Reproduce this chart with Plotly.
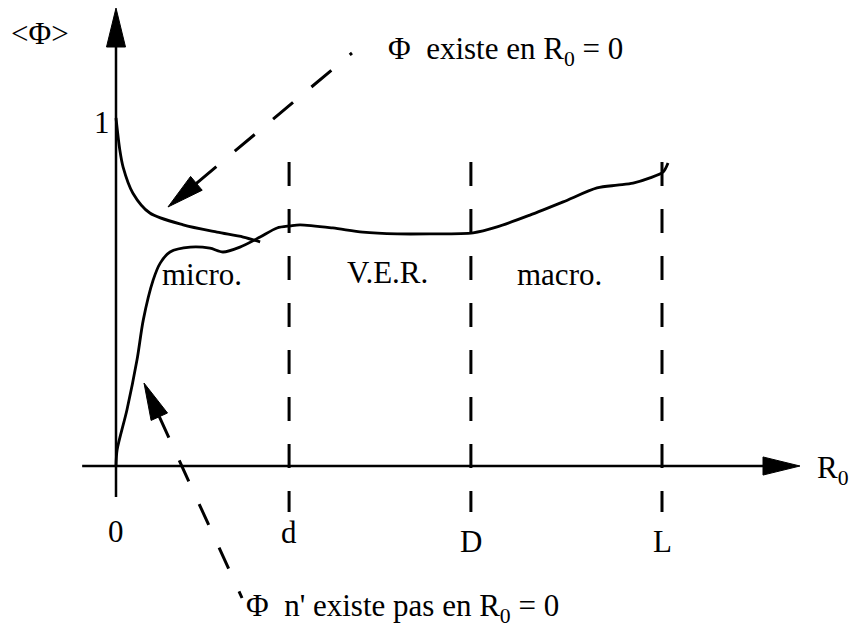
import plotly.graph_objects as go

# ---- data (R0 in arbitrary units with L = 10, <Phi> normalised so that 1 = value at R0 = 0)
r0_exists = [0.0, 0.07, 0.13, 0.31, 0.62, 1.23, 1.85, 2.33, 2.64]
phi_exists = [1.0, 0.908, 0.859, 0.784, 0.727, 0.693, 0.672, 0.658, 0.644]

r0_not_exists = [0.0, 0.02, 0.20, 0.385, 0.50, 0.68, 0.81, 0.99, 1.36, 1.72, 1.96, 2.27,
                 2.64, 2.95, 3.19, 3.37, 3.97, 4.52, 5.15, 5.75, 6.54, 6.98, 7.58, 8.19,
                 8.81, 9.18, 9.47, 9.78, 10.02, 10.11]
phi_not_exists = [0.0, 0.046, 0.161, 0.305, 0.420, 0.534, 0.583, 0.615, 0.629, 0.626, 0.615, 0.629,
                  0.658, 0.684, 0.690, 0.693, 0.684, 0.672, 0.667, 0.667, 0.670, 0.687, 0.721, 0.759,
                  0.799, 0.807, 0.813, 0.828, 0.845, 0.871]

tick_vals = [0.0, 3.17, 6.50, 10.0]
tick_labels = ["0", "d", "D", "L"]
tick_label_y = [-0.187, -0.190, -0.2155, -0.2155]

zone_labels = ["micro.", "V.E.R.", "macro."]
zone_x = [1.575, 4.98, 8.13]
zone_y = [0.549, 0.5575, 0.549]

FONT = "Liberation Serif"
INK = "black"

fig = go.Figure()
fig.add_trace(go.Scatter(x=r0_exists, y=phi_exists, mode="lines",
                         line=dict(color=INK, width=2.8, shape="spline", smoothing=0.8),
                         hoverinfo="skip"))
fig.add_trace(go.Scatter(x=r0_not_exists, y=phi_not_exists, mode="lines",
                         line=dict(color=INK, width=2.8, shape="spline", smoothing=0.8),
                         hoverinfo="skip"))

shapes = []
# axes
shapes.append(dict(type="line", xref="x", yref="y", x0=-0.62, y0=0, x1=11.9, y1=0,
                   line=dict(color=INK, width=2.5)))
shapes.append(dict(type="path", xref="x", yref="y",
                   path="M 11.85,0.026 L 12.527,0 L 11.85,-0.026 Z",
                   fillcolor=INK, line=dict(color=INK, width=1)))
shapes.append(dict(type="line", xref="x", yref="y", x0=0, y0=-0.089, x1=0, y1=1.21,
                   line=dict(color=INK, width=2.5)))
shapes.append(dict(type="path", xref="x", yref="y",
                   path="M -0.174,1.204 L 0,1.316 L 0.174,1.204 Z",
                   fillcolor=INK, line=dict(color=INK, width=1)))
# dashed verticals at d, D, L
for xv in tick_vals[1:]:
    shapes.append(dict(type="line", xref="x", yref="y", x0=xv, y0=0.8736, x1=xv, y1=-0.1322,
                       line=dict(color=INK, width=3, dash="24px,23px")))
# pointer arrows
shapes.append(dict(type="line", xref="x", yref="y", x0=1.473, y0=0.8124, x1=4.322, y1=1.1868,
                   line=dict(color=INK, width=3, dash="26px,24px")))
shapes.append(dict(type="path", xref="x", yref="y",
                   path="M 1.366,0.8322 L 0.952,0.7443 L 1.579,0.7925 Z",
                   fillcolor=INK, line=dict(color=INK, width=1)))
shapes.append(dict(type="line", xref="x", yref="y", x0=0.793, y0=0.1417, x1=2.308, y1=-0.3793,
                   line=dict(color=INK, width=3, dash="23px,25px")))
shapes.append(dict(type="path", xref="x", yref="y",
                   path="M 0.9432,0.1523 L 0.5128,0.2385 L 0.6429,0.1310 Z",
                   fillcolor=INK, line=dict(color=INK, width=1)))

annotations = []
def txt(text, x, y, size=31, xanchor="center", yanchor="middle"):
    annotations.append(dict(text=text, x=x, y=y, xref="x", yref="y", showarrow=False,
                            xanchor=xanchor, yanchor=yanchor,
                            font=dict(family=FONT, size=size, color=INK)))

for v, lab, ly in zip(tick_vals, tick_labels, tick_label_y):
    txt(lab, v, ly, size=31)
for lab, zx, zy in zip(zone_labels, zone_x, zone_y):
    txt(lab, zx, zy, size=31)
txt("1", -0.256, 0.9885, size=31)
txt("&lt;Φ&gt;", -1.392, 1.244, size=31)
txt("R<sub>0</sub>", 12.80, -0.012, size=31, xanchor="left")
txt("Φ  existe en R<sub>0</sub> = 0", 7.14, 1.192, size=31)
txt("Φ  n' existe pas en R<sub>0</sub> = 0", 5.256, -0.408, size=31)

fig.update_layout(
    width=862, height=643,
    margin=dict(l=0, r=0, t=0, b=0),
    paper_bgcolor="white", plot_bgcolor="white",
    showlegend=False,
    xaxis=dict(range=[-2.1245, 13.663], visible=False, fixedrange=True),
    yaxis=dict(range=[-0.5086, 1.3391], visible=False, fixedrange=True),
    shapes=shapes, annotations=annotations,
)

fig.write_html("out.html", config={"displayModeBar": False},
               post_script="document.body.style.margin='0';document.body.style.overflow='hidden';")
